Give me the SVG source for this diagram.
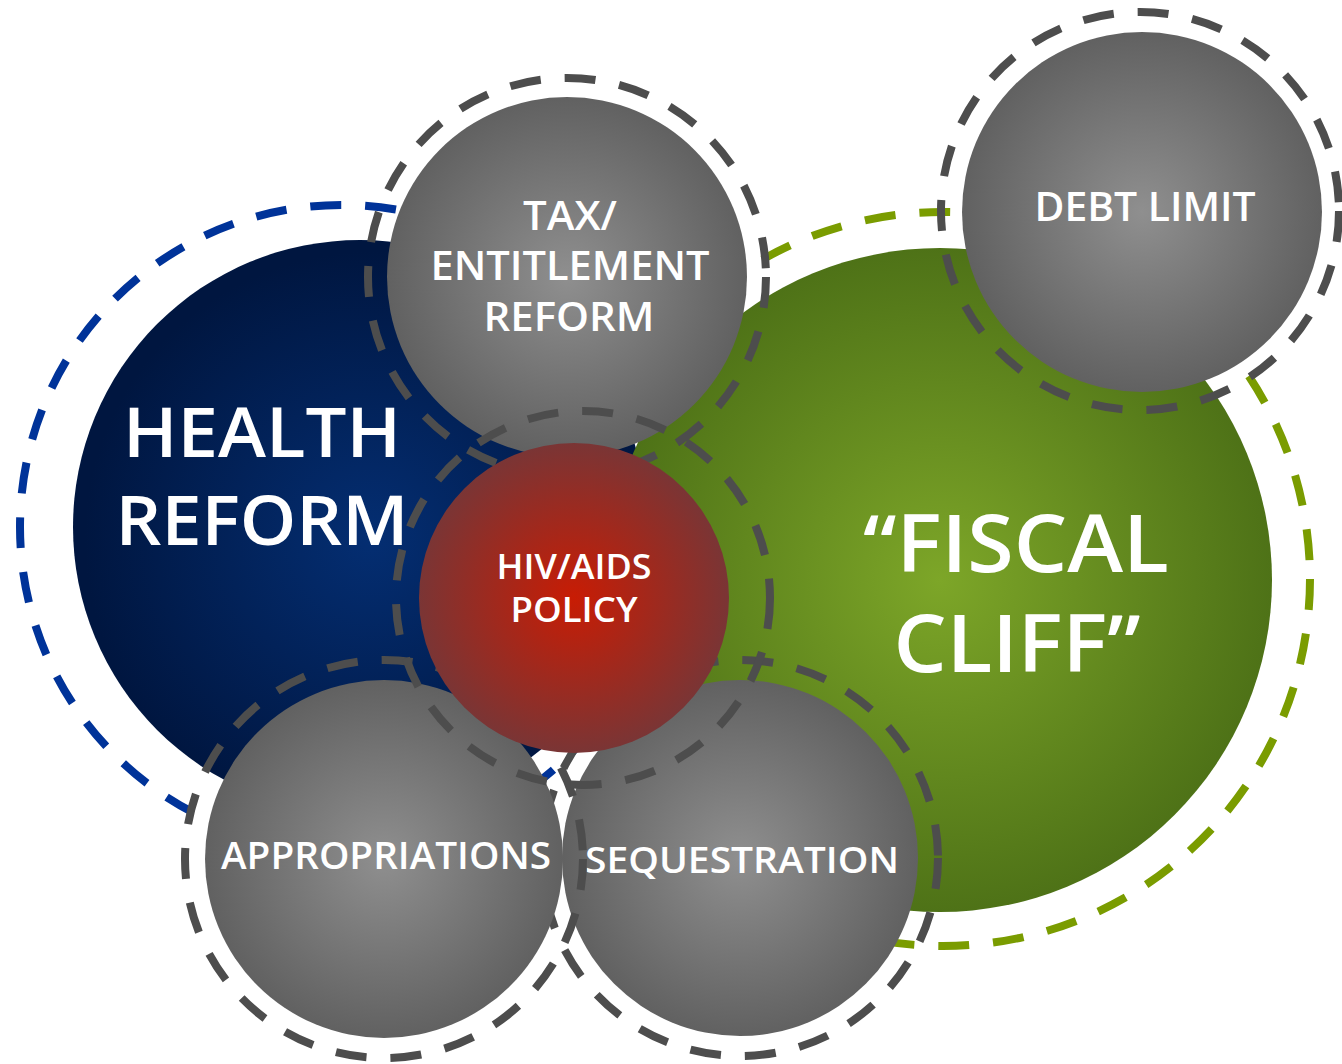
<svg xmlns="http://www.w3.org/2000/svg" width="1342" height="1064" viewBox="0 0 1342 1064">
  <defs>
    <radialGradient id="gBlue" cx="0.52" cy="0.52" r="0.5">
      <stop offset="0" stop-color="#042e72"/>
      <stop offset="1" stop-color="#001640"/>
    </radialGradient>
    <radialGradient id="gGreen" cx="0.5" cy="0.5" r="0.5">
      <stop offset="0" stop-color="#7da628"/>
      <stop offset="1" stop-color="#4e7217"/>
    </radialGradient>
    <radialGradient id="gGray" cx="0.5" cy="0.5" r="0.5">
      <stop offset="0" stop-color="#8f8f8f"/>
      <stop offset="1" stop-color="#616161"/>
    </radialGradient>
    <radialGradient id="gRed" cx="0.5" cy="0.5" r="0.5">
      <stop offset="0" stop-color="#c81c04"/>
      <stop offset="1" stop-color="#7a3535"/>
    </radialGradient>
    <style>
      .ring { fill: none; stroke-width: 8; stroke-dasharray: 31 24; }
      .gray { stroke: #4d4d4d; }
      .blue { stroke: #003399; }
      .green { stroke: #7a9c00; }
      .lbl { fill: #ffffff; font-family: "Open Sans", "Liberation Sans", sans-serif; font-weight: 600; text-anchor: middle; }
    </style>
  </defs>
  <rect width="1342" height="1064" fill="#ffffff"/>

  <g id="connectors">
    <circle class="ring blue" cx="342" cy="527" r="322"/>
    <circle class="ring green" cx="943" cy="579" r="367"/>
  </g>

  <g id="health-reform">
    <circle cx="360" cy="527" r="287" fill="url(#gBlue)"/>
    <text class="lbl" x="262" y="457" font-size="69" textLength="278" lengthAdjust="spacingAndGlyphs">HEALTH</text>
    <text class="lbl" x="262" y="545" font-size="69" textLength="293" lengthAdjust="spacingAndGlyphs">REFORM</text>
  </g>

  <g id="fiscal-cliff">
    <circle cx="940" cy="580" r="332" fill="url(#gGreen)"/>
    <text class="lbl" x="1016" y="572" font-size="80" textLength="306" lengthAdjust="spacingAndGlyphs">“FISCAL</text>
    <text class="lbl" x="1017" y="672" font-size="80" textLength="247" lengthAdjust="spacingAndGlyphs">CLIFF”</text>
  </g>

  <g id="tax-entitlement-reform">
    <circle class="ring gray" cx="567" cy="277" r="199"/>
    <circle cx="567" cy="277" r="180" fill="url(#gGray)"/>
    <text class="lbl" x="570" y="230" font-size="39" textLength="94" lengthAdjust="spacingAndGlyphs">TAX/</text>
    <text class="lbl" x="570" y="280" font-size="39" textLength="279" lengthAdjust="spacingAndGlyphs">ENTITLEMENT</text>
    <text class="lbl" x="569" y="331" font-size="39" textLength="171" lengthAdjust="spacingAndGlyphs">REFORM</text>
  </g>

  <g id="debt-limit">
    <circle class="ring gray" cx="1140" cy="211" r="199"/>
    <circle cx="1142" cy="212" r="180" fill="url(#gGray)"/>
    <text class="lbl" x="1145" y="221" font-size="39" textLength="221" lengthAdjust="spacingAndGlyphs">DEBT LIMIT</text>
  </g>

  <g id="sequestration">
    <circle class="ring gray" cx="740" cy="858" r="198"/>
    <circle cx="740" cy="858" r="178" fill="url(#gGray)"/>
    <text class="lbl" x="742" y="873" font-size="36.5" textLength="314" lengthAdjust="spacingAndGlyphs">SEQUESTRATION</text>
  </g>

  <g id="appropriations">
    <circle class="ring gray" cx="384" cy="859" r="199"/>
    <circle cx="384" cy="859" r="179" fill="url(#gGray)"/>
    <text class="lbl" x="386" y="869" font-size="38" textLength="330" lengthAdjust="spacingAndGlyphs">APPROPRIATIONS</text>
  </g>

  <g id="hiv-aids-policy">
    <circle class="ring gray" cx="583" cy="598" r="187"/>
    <circle cx="574" cy="598" r="155" fill="url(#gRed)"/>
    <text class="lbl" x="574" y="579" font-size="34" textLength="155" lengthAdjust="spacingAndGlyphs">HIV/AIDS</text>
    <text class="lbl" x="574" y="622" font-size="34" textLength="127" lengthAdjust="spacingAndGlyphs">POLICY</text>
  </g>
</svg>
